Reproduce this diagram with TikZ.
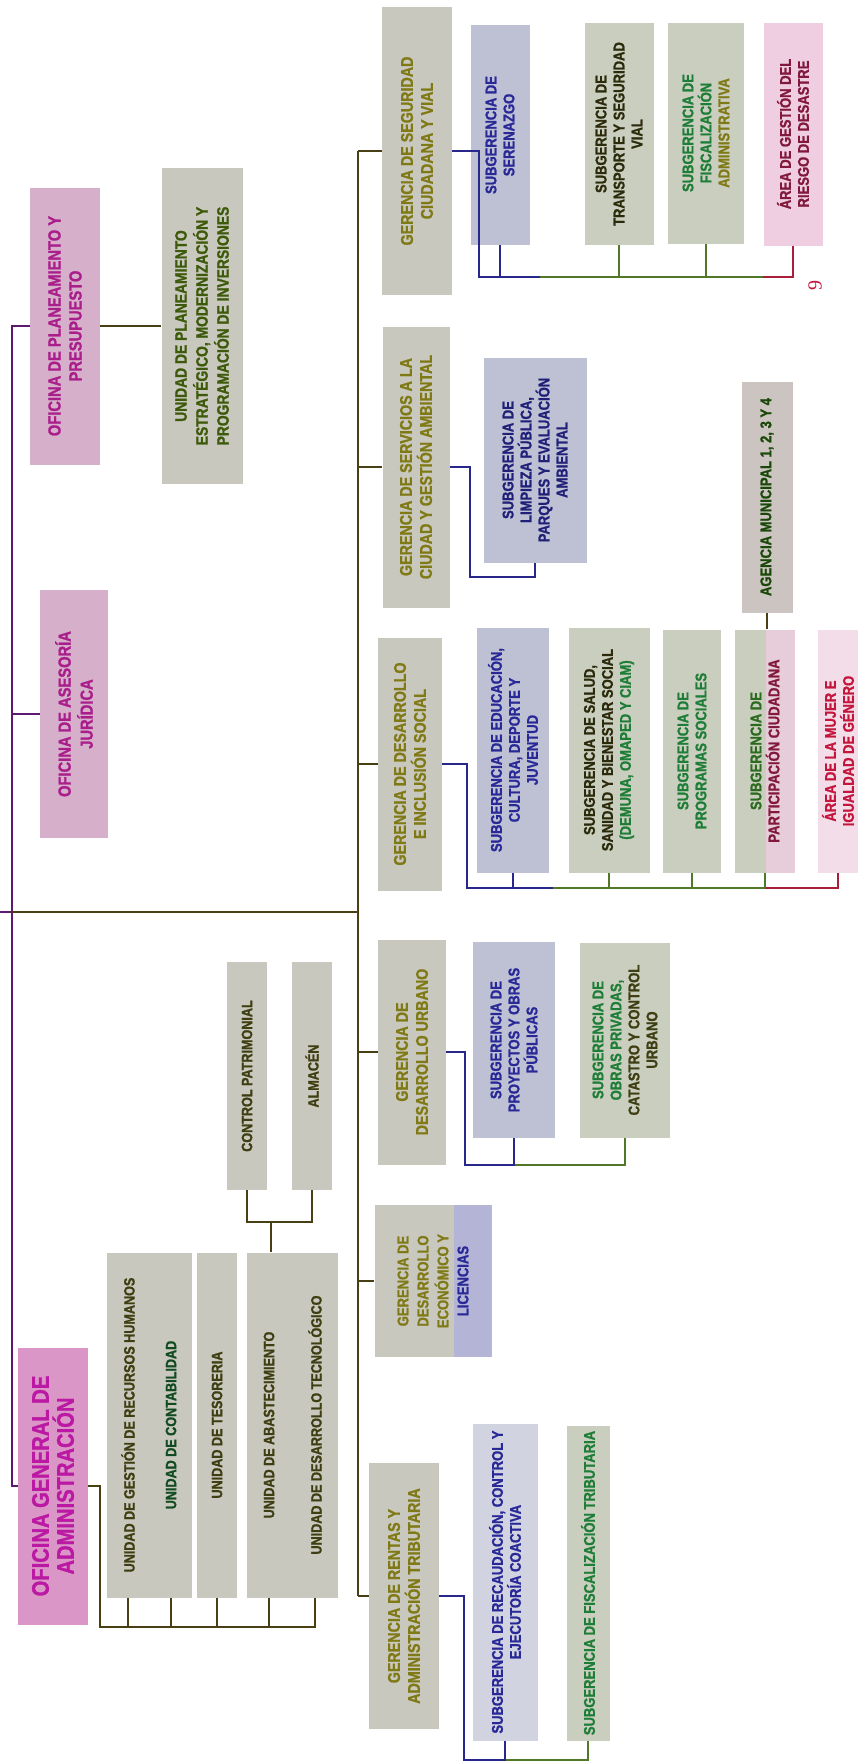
\documentclass[tikz,border=0pt]{standalone}
\usepackage{fontspec}
\setmainfont{Liberation Sans}[FakeStretch = 0.84, BoldFont = Liberation Sans Bold, BoldFeatures = {FakeStretch = 0.84, FakeBold = 1.2}]
\newfontfamily\numfont{Liberation Serif}
\usetikzlibrary{calc}
\definecolor{cgris}{RGB}{201,200,190}
\definecolor{crosa}{RGB}{214,176,202}
\definecolor{crosaf}{RGB}{218,150,198}
\definecolor{cazul}{RGB}{190,192,212}
\definecolor{cverde}{RGB}{202,206,190}
\definecolor{crosac}{RGB}{238,206,224}
\definecolor{cmalva}{RGB}{180,180,214}
\definecolor{tger}{RGB}{128,122,22}
\definecolor{tofi}{RGB}{170,30,140}
\definecolor{tuni}{RGB}{62,62,18}
\definecolor{tazul}{RGB}{40,40,150}
\definecolor{tverde}{RGB}{30,125,55}
\definecolor{trojo}{RGB}{196,22,60}
\definecolor{tgrana}{RGB}{130,25,60}
\definecolor{loliva}{RGB}{72,64,20}
\definecolor{lmorado}{RGB}{95,25,115}
\definecolor{lazul}{RGB}{40,40,140}
\definecolor{lverde}{RGB}{80,120,40}
\definecolor{lrojo}{RGB}{170,30,60}
\tikzset{caja/.style = {rotate = 90, align = center, inner sep = 0, fill = cgris},
  tam/.style 2 args = {minimum width = #2pt, minimum height = #1pt},
  gerencia/.style = {caja, text = tger, font = \bfseries\fontsize{17}{20}\selectfont},
  oficina/.style = {caja, fill = crosa, text = tofi, font = \bfseries\fontsize{17.5}{21}\selectfont},
  unidad/.style = {caja, text = tuni, font = \bfseries\fontsize{15}{18}\selectfont},
  subger/.style = {caja, font = \bfseries\fontsize{15.5}{18}\selectfont},
  mitad/.style 2 args = {path picture = {\fill [#1] (path picture bounding box.south east) rectangle ($(path picture bounding box.north east)!#2!(path picture bounding box.north west)$);}},
  lger/.style = {loliva, line width = 1.6},
  lmor/.style = {lmorado, line width = 1.6},
  lazu/.style = {lazul, line width = 1.6},
  lver/.style = {lverde, line width = 1.6},
  lroj/.style = {lrojo, line width = 1.6}}

\begin{document}
\begin{tikzpicture}[x = 1pt, y = -1pt]
  \useasboundingbox (0, 0) rectangle (866, 1764);

  % oficinas
  \node [oficina, tam = {70}{277}] (opp) at (65, 326) {OFICINA DE PLANEAMIENTO Y\\PRESUPUESTO};
  \node [unidad, tam = {81}{316}, text = tger!80!green!60!black, font = \bfseries\fontsize{16.5}{21}\selectfont] (up) at (202, 326) {UNIDAD DE PLANEAMIENTO\\ESTRATÉGICO, MODERNIZACIÓN Y\\PROGRAMACIÓN DE INVERSIONES};
  \node [oficina, tam = {68}{248}, font = \bfseries\fontsize{17.5}{22}\selectfont] (oaj) at (74, 714) {OFICINA DE ASESORÍA\\JURÍDICA};
  \node [oficina, tam = {70}{277}, fill = crosaf, text = tofi!80!magenta, font = \bfseries\fontsize{24}{25}\selectfont] (oga) at (53, 1486) {OFICINA GENERAL DE\\ADMINISTRACIÓN};

  % unidades de administracion
  \node [unidad, tam = {43}{345}] (rrhh) at (128, 1425) {UNIDAD DE GESTIÓN DE RECURSOS HUMANOS};
  \node [unidad, tam = {42}{345}, text = tverde!60!black] (cont) at (171, 1425) {UNIDAD DE CONTABILIDAD};
  \node [unidad, tam = {40}{345}] (tes) at (217, 1425) {UNIDAD DE TESORERIA};
  \node [unidad, tam = {45}{345}] (abas) at (269, 1425) {UNIDAD DE ABASTECIMIENTO};
  \node [unidad, tam = {46}{345}] (dtec) at (315, 1425) {UNIDAD DE DESARROLLO TECNOLÓGICO};
  \node [unidad, tam = {40}{228}] (cp) at (247, 1076) {CONTROL PATRIMONIAL};
  \node [unidad, tam = {40}{228}] (alm) at (312, 1076) {ALMACÉN};

  % gerencias
  \node [gerencia, tam = {70}{288}] (gscv) at (417, 151) {GERENCIA DE SEGURIDAD\\CIUDADANA Y VIAL};
  \node [gerencia, tam = {67}{281}] (gscga) at (416, 467) {GERENCIA DE SERVICIOS A LA\\CIUDAD Y GESTIÓN AMBIENTAL};
  \node [gerencia, tam = {64}{253}] (gdis) at (410, 764) {GERENCIA DE DESARROLLO\\E INCLUSIÓN SOCIAL};
  \node [gerencia, tam = {68}{225}] (gdu) at (412, 1052) {GERENCIA DE\\DESARROLLO URBANO};
  \node [gerencia, tam = {117}{152}, mitad = {cmalva}{0.32}, font = \bfseries\fontsize{15.5}{20}\selectfont] (gdel) at (433, 1281) {GERENCIA DE\\DESARROLLO\\ECONÓMICO Y\\\textcolor{tazul}{LICENCIAS}};
  \node [gerencia, tam = {70}{266}] (grat) at (404, 1596) {GERENCIA DE RENTAS Y\\ADMINISTRACIÓN TRIBUTARIA};

  % subgerencias
  \node [subger, tam = {59}{220}, fill = cazul, text = tazul] (ser) at (500, 135) {SUBGERENCIA DE\\SERENAZGO};
  \node [subger, tam = {69}{222}, fill = cverde, text = tuni!70!black] (stsv) at (619, 134) {SUBGERENCIA DE\\TRANSPORTE Y SEGURIDAD\\VIAL};
  \node [subger, tam = {76}{221}, fill = cverde, text = tverde] (sfa) at (706, 133) {SUBGERENCIA DE\\FISCALIZACIÓN\\\textcolor{tger}{ADMINISTRATIVA}};
  \node [subger, tam = {59}{223}, fill = crosac, text = tgrana] (agrd) at (793, 134) {ÁREA DE GESTIÓN DEL\\RIESGO DE DESASTRE};
  \node [subger, tam = {103}{205}, fill = cazul, text = tazul!80!black] (slp) at (535, 460) {SUBGERENCIA DE\\LIMPIEZA PÚBLICA,\\PARQUES Y EVALUACIÓN\\AMBIENTAL};
  \node [subger, tam = {51}{231}, fill = cgris!85!crosa, text = tuni!70!green!60!black] (am) at (767, 497) {AGENCIA MUNICIPAL 1, 2, 3 Y 4};
  \node [subger, tam = {72}{245}, fill = cazul, text = tazul] (secdj) at (513, 750) {SUBGERENCIA DE EDUCACIÓN,\\CULTURA, DEPORTE Y\\JUVENTUD};
  \node [subger, tam = {81}{245}, fill = cverde, text = tuni!70!black] (sssbs) at (609, 750) {SUBGERENCIA DE SALUD,\\SANIDAD Y BIENESTAR SOCIAL\\\textcolor{tverde}{(DEMUNA, OMAPED Y CIAM)}};
  \node [subger, tam = {58}{243}, fill = cverde, text = tverde] (sps) at (692, 751) {SUBGERENCIA DE\\PROGRAMAS SOCIALES};
  \node [subger, tam = {60}{243}, fill = cverde, mitad = {crosac!80!cgris}{0.48}, text = tverde!80!lime!70!black] (spc) at (765, 751) {SUBGERENCIA DE\\\textcolor{tgrana}{PARTICIPACIÓN CIUDADANA}};
  \node [subger, tam = {40}{243}, fill = crosac!70!white, text = trojo] (amig) at (838, 751) {ÁREA DE LA MUJER E\\IGUALDAD DE GÉNERO};
  \node [subger, tam = {82}{196}, fill = cazul, text = tazul] (spop) at (514, 1040) {SUBGERENCIA DE\\PROYECTOS Y OBRAS\\PÚBLICAS};
  \node [subger, tam = {90}{195}, fill = cverde, text = tverde] (sopc) at (625, 1040) {SUBGERENCIA DE\\OBRAS PRIVADAS,\\\textcolor{tuni}{CATASTRO Y CONTROL}\\\textcolor{tuni}{URBANO}};
  \node [subger, tam = {65}{317}, fill = cazul!70!white, text = tazul] (srcec) at (505, 1582) {SUBGERENCIA DE RECAUDACIÓN, CONTROL Y\\EJECUTORÍA COACTIVA};
  \node [subger, tam = {43}{315}, fill = cverde, text = tverde] (sft) at (588, 1583) {SUBGERENCIA DE FISCALIZACIÓN TRIBUTARIA};

  \node [rotate = 90, text = trojo, font = \numfont\fontsize{20}{20}\selectfont] (pagina) at (815, 285) {9};

  % lineas
  \coordinate (entrada) at (0, 912);
  \coordinate (izq) at (12, 912);
  \coordinate (troncal) at (358, 912);
  \draw [lmor] (opp.north) -- (opp.north -| izq) -- (oga.north -| izq) -- (oga.north);
  \draw [lmor] (oaj.north) -- (oaj.north -| izq);
  \draw [lmor] (entrada) -- (izq);
  \draw [lger] (izq) -- (troncal);
  \draw [lger] (opp.south) -- (up.north);
  \draw [lger] (troncal |- gscv.north) -- (troncal |- grat.north);
  \foreach \g in {gscv, gscga, gdis, gdu, gdel, grat}
    \draw [lger] (troncal |- \g.north) -- (\g.north);

  \coordinate (bunid) at (100, 1627);
  \draw [lger] (oga.south) -| (bunid) -- (bunid -| dtec.west) -- (dtec.west);
  \foreach \u in {rrhh, cont, tes, abas}
    \draw [lger] (\u.west) -- (\u.west |- bunid);
  \coordinate (balm) at (271, 1222);
  \draw [lger] (cp.west) |- (balm) -- (balm -| alm.west) -- (alm.west);
  \draw [lger] (balm) -- (balm |- abas.east);

  \coordinate (bseg) at (479, 277);
  \draw [lver] (bseg) -- (bseg -| agrd.west);
  \draw [lroj] ($(bseg -| agrd.west) + (-30, 0)$) -- (bseg -| agrd.west) -- (agrd.west);
  \draw [lazu] (gscv.south) -| (bseg) -- ($(bseg -| ser.west) + (40, 0)$);
  \draw [lazu] (ser.west) -- (ser.west |- bseg);
  \draw [lver] (stsv.west) -- (stsv.west |- bseg);
  \draw [lver] (sfa.west) -- (sfa.west |- bseg);

  \coordinate (bslp) at (470, 577);
  \draw [lazu] (gscga.south) -| (bslp) -| (slp.west);
  \draw [lger] (am.west) -- (am.west |- spc.east);

  \coordinate (bdis) at (467, 888);
  \draw [lver] (bdis) -- (bdis -| amig.west);
  \draw [lroj] (bdis -| spc.west) -- (bdis -| amig.west) -- (amig.west);
  \draw [lazu] (gdis.south) -| (bdis) -- ($(bdis -| secdj.west) + (40, 0)$);
  \draw [lazu] (secdj.west) -- (secdj.west |- bdis);
  \foreach \s in {sssbs, sps, spc}
    \draw [lver] (\s.west) -- (\s.west |- bdis);

  \coordinate (bdu) at (465, 1165);
  \draw [lver] (bdu -| spop.west) -- (bdu -| sopc.west) -- (sopc.west);
  \draw [lazu] (gdu.south) -| (bdu) -- (bdu -| spop.west) -- (spop.west);

  \coordinate (bren) at (464, 1760);
  \draw [lver] (bren -| srcec.west) -- (bren -| sft.west) -- (sft.west);
  \draw [lazu] (grat.south) -| (bren) -- (bren -| srcec.west) -- (srcec.west);
\end{tikzpicture}
\end{document}
